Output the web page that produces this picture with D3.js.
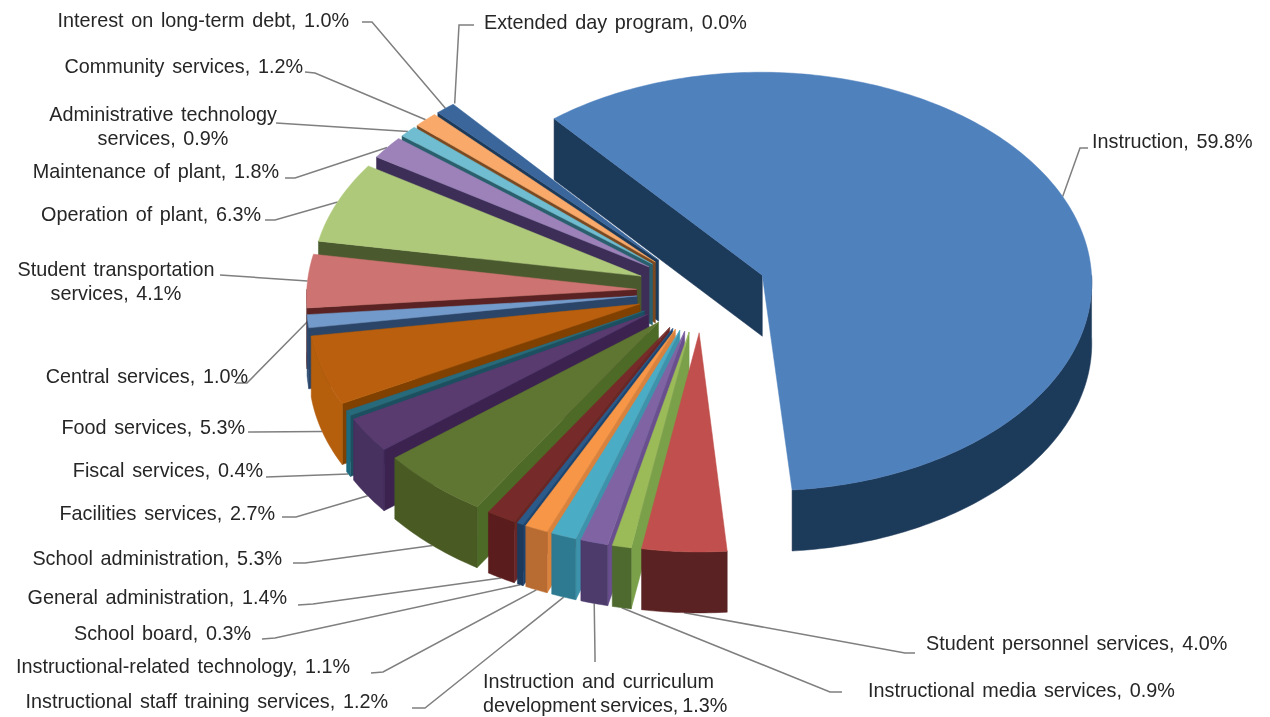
<!DOCTYPE html>
<html>
<head>
<meta charset="utf-8">
<script src="https://cdnjs.cloudflare.com/ajax/libs/d3/7.8.5/d3.min.js"></script>
<style>
  html, body { margin: 0; padding: 0; background: #fff; }
  svg { display: block; }
  text { font-family: "Liberation Sans", Arial, sans-serif; font-size: 19.8px; word-spacing: 2.2px; fill: #262626; }
</style>
</head>
<body>
<div id="chart"></div>
<script>
// data
var categories = ["Instruction", "Student personnel services", "Instructional media services",
    "Instruction and curriculum development services", "Instructional staff training services",
    "Instructional-related technology", "School board", "General administration",
    "School administration", "Facilities services", "Fiscal services", "Food services",
    "Central services", "Student transportation services", "Operation of plant",
    "Maintenance of plant", "Administrative technology services", "Community services",
    "Interest on long-term debt", "Extended day program"];
var shares = [59.8, 4.0, 0.9, 1.3, 1.2, 1.1, 0.3, 1.4, 5.3, 2.7, 0.4, 5.3, 1.0, 4.1, 6.3, 1.8, 0.9, 1.2, 1.0, 0.0];

// colours, same order as categories
var topColors = ["#4f81bd", "#c0504d", "#9bbb59", "#8064a2", "#4bacc6", "#f79646", "#2a5a8a", "#772c2a", "#5f7530",
    "#5a3a70", "#276a7c", "#ba5e08", "#729aca", "#cd7371", "#afc97a", "#9c82b8", "#6fbdd1", "#f9aa6b", "#3a669c", "#9e3b38"];
var outerColors = ["#1f3a5a", "#5a2222", "#4f6b2e", "#4d3a6c", "#2e7a90", "#b86c32", "#1d3a5c", "#5a1c1c", "#485a24",
    "#46305f", "#1f6c80", "#b55e0c", "#2c4a70", "#5a2424", "#4b5a2f", "#3e2f58", "#2a5f6e", "#7a4a20", "#1f3a5a", "#5a2222"];
var sideColors = ["#1f3a5a", "#8f3c3a", "#7aa04a", "#6a4f8e", "#3e93ab", "#d9823c", "#1f4570", "#6b2826", "#4e6a28",
    "#3a2450", "#1a5060", "#7f3f00", "#2a4568", "#5a2424", "#4b5a2f", "#3e2f58", "#2a5f6e", "#7a4a20", "#1f3a5a", "#5a2222"];

// label layout: lines, text x, baseline y, anchor, then the elbow next to the text
var labelLines = [["Instruction, 59.8%"], ["Student personnel services, 4.0%"], ["Instructional media services, 0.9%"],
    ["Instruction and curriculum", "development services, 1.3%"], ["Instructional staff training services, 1.2%"],
    ["Instructional-related technology, 1.1%"], ["School board, 0.3%"], ["General administration, 1.4%"],
    ["School administration, 5.3%"], ["Facilities services, 2.7%"], ["Fiscal services, 0.4%"], ["Food services, 5.3%"],
    ["Central services, 1.0%"], ["Student transportation", "services, 4.1%"], ["Operation of plant, 6.3%"],
    ["Maintenance of plant, 1.8%"], ["Administrative technology", "services, 0.9%"], ["Community services, 1.2%"],
    ["Interest on long-term debt, 1.0%"], ["Extended day program, 0.0%"]];
var labelX = [1092, 926, 868, 483, 388, 350, 251, 287, 282, 275, 263, 245, 248, 116, 261, 279, 163, 303, 349, 484];
var labelY = [148, 650, 697, 688, 708, 673, 640, 604, 565, 520, 477, 434, 383, 276, 221, 178, 121, 73, 27, 29];
var labelAnchor = ["start", "start", "start", "start", "end", "end", "end", "end", "end", "end", "end", "end",
    "end", "middle", "end", "end", "middle", "end", "end", "start"];
var elbows = [[[1088, 148], [1080, 148]], [[915, 653], [905, 653]], [[842, 692], [830, 692]], [[595, 662], [595, 655]],
    [[412, 708], [425, 708]], [[371, 673], [383, 672]], [[262, 639], [275, 638]], [[298, 605], [313, 604]],
    [[293, 563], [305, 563]], [[282, 517], [296, 517]], [[266, 477], [266, 477]], [[248, 432], [248, 432]],
    [[236, 383], [247, 383]], [[220, 275], [220, 275]], [[265, 220], [275, 220]], [[285, 178], [295, 178]],
    [[276, 123], [276, 123]], [[305, 72], [315, 73]], [[362, 22], [372, 22]], [[474, 25], [459, 25]]];

var width = 1270, height = 717;
var svg = d3.select("#chart").append("svg").attr("width", width).attr("height", height);

// the reference is a soft scan
svg.append("filter").attr("id", "soft")
    .append("feGaussianBlur").attr("stdDeviation", 0.4);

var root = svg.append("g").attr("filter", "url(#soft)");

var cx = 702, cy = 291, depth = 61, explode = 0.198, persp = 0.03;
var xScale = d3.scaleLinear().domain([-1, 1]).range([-330, 330]);
var yScale = d3.scaleLinear().domain([-1, 1]).range([-210, 210]);

var rad = Math.PI / 180;
var pie = d3.pie().sort(null).value(function(d) { return d; })
    .startAngle(-40 * rad).endAngle(320 * rad);

var slices = pie(shares).map(function(d, i) {
    var mid = (d.startAngle + d.endAngle) / 2;
    return { i: i, a0: d.startAngle, a1: d.endAngle, mid: mid, value: d.value,
        ox: explode * Math.sin(mid), oy: -explode * Math.cos(mid) };
});

// ground plane to screen, with a little perspective towards the viewer
function project(X, Y, Z) {
    var f = 1 / (1 - persp * Y);
    return [cx + xScale(X) * f, cy + yScale(Y) * f + depth * Z];
}
function rim(s, a, Z) {
    return project(s.ox + Math.sin(a), s.oy - Math.cos(a), Z);
}
function arcAngles(a0, a1) {
    var n = Math.max(2, Math.ceil((a1 - a0) / (1 * rad)));
    return d3.range(n + 1).map(function(k) { return a0 + (a1 - a0) * k / n; });
}

var line = d3.line();
function polygon(pts) { return line(pts) + "Z"; }

// leader lines go under the slices
var leaders = root.append("g");
slices.forEach(function(s) {
    var front = Math.cos(s.mid) < -0.2 ? 1 : 0;
    var end = rim(s, s.mid, front);
    leaders.append("path")
        .attr("d", line(elbows[s.i].concat([end])))
        .attr("fill", "none")
        .attr("stroke", "#7f7f7f")
        .attr("stroke-width", 1.5);
});

// back to front
var order = slices.filter(function(s) { return s.value > 0; })
    .sort(function(a, b) { return -Math.cos(a.mid) - -Math.cos(b.mid); });

var pieG = root.append("g");
order.forEach(function(s) {
    var g = pieG.append("g");
    var apexTop = project(s.ox, s.oy, 0), apexBot = project(s.ox, s.oy, 1);

    function radial(a) {
        g.append("path")
            .attr("d", polygon([apexTop, rim(s, a, 0), rim(s, a, 1), apexBot]))
            .attr("fill", sideColors[s.i])
            .attr("stroke", sideColors[s.i])
            .attr("stroke-width", 0.5);
    }
    if (-Math.sin(s.a0) > 0.1) radial(s.a0);
    if (Math.sin(s.a1) > 0.1) radial(s.a1);

    // outer wall only on the part that faces us
    var w0 = Math.max(s.a0, 90 * rad), w1 = Math.min(s.a1, 270 * rad);
    if (w1 > w0) {
        var angs = arcAngles(w0, w1);
        var upper = angs.map(function(a) { return rim(s, a, 0); });
        var lower = angs.map(function(a) { return rim(s, a, 1); }).reverse();
        g.append("path")
            .attr("d", polygon(upper.concat(lower)))
            .attr("fill", outerColors[s.i])
            .attr("stroke", outerColors[s.i])
            .attr("stroke-width", 0.5);
    }

    var topPts = [apexTop].concat(arcAngles(s.a0, s.a1).map(function(a) { return rim(s, a, 0); }));
    g.append("path")
        .attr("d", polygon(topPts))
        .attr("fill", topColors[s.i])
        .attr("stroke", topColors[s.i])
        .attr("stroke-width", 0.5);
});

// labels
labelLines.forEach(function(lines, i) {
    lines.forEach(function(t, k) {
        var label = root.append("text")
            .attr("x", labelX[i])
            .attr("y", labelY[i] + k * 24)
            .attr("text-anchor", labelAnchor[i])
            .text(t);
        // this line sits tighter in the reference
        if (t.indexOf("development") === 0) label.style("word-spacing", "-1.5px");
    });
});
</script>
</body>
</html>
